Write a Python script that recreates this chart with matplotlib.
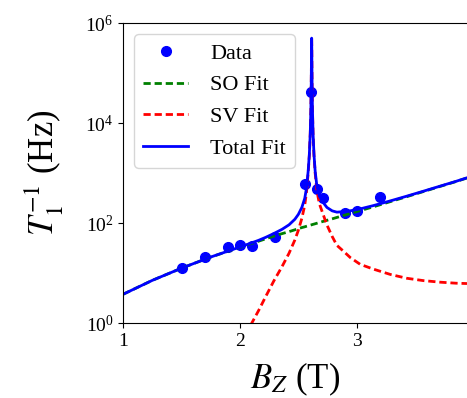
import numpy as np
import matplotlib
matplotlib.use("Agg")
import matplotlib.pyplot as plt
from matplotlib.ticker import NullLocator

plt.rcParams['font.family'] = 'serif'
plt.rcParams['font.serif'] = ['Liberation Serif', 'DejaVu Serif']
plt.rcParams['mathtext.fontset'] = 'stix'

# Mesures (champ B_Z en T, taux de relaxation en Hz)
b_data = [1.5, 1.7, 1.9, 2.0, 2.1, 2.3, 2.56, 2.61, 2.66, 2.71, 2.9, 3.0, 3.2]
t_data = [12.4, 21, 34, 37, 35, 53, 600, 42000, 490, 320, 160, 174, 326]

# Courbes d'ajustement
b_fit = [1.0, 1.25, 1.5, 1.75, 2.0, 2.09, 2.16, 2.22, 2.29, 2.36, 2.42, 2.47,
         2.50, 2.53, 2.555, 2.57, 2.584, 2.594, 2.602, 2.607, 2.610, 2.612,
         2.613, 2.614, 2.615, 2.616, 2.618, 2.621, 2.626, 2.634, 2.644, 2.659,
         2.68, 2.71, 2.745, 2.79, 2.83, 2.89, 2.945, 3.03, 3.145, 3.29, 3.43,
         3.57, 3.715, 3.85, 3.945]
so_fit = [3.8, 7.2, 12.6, 21, 33, 38.7, 43.6, 48.6, 55, 61.7, 67.6, 73.5,
          77.6, 81.6, 84.5, 86.7, 88.6, 89.9, 91.1, 91.8, 92.2, 92.5,
          92.6, 92.8, 92.9, 93.1, 93.4, 93.8, 94.6, 95.7, 97.2, 99.6,
          103, 108, 114, 122, 130, 143, 156, 178, 213, 270, 339,
          427, 543, 678, 800]
sv_fit = [0.001, 0.003, 0.01, 0.05, 0.35, 0.9, 1.8, 3.4, 7.0, 13.5, 25, 46,
          72, 125, 230, 420, 1000, 2240, 6170, 1.77e4, 5.06e4, 1.55e5,
          3.2e5, 5.0e5, 3.2e5, 1.55e5, 5.06e4, 1.77e4, 6170, 2240, 1000, 444,
          245, 155, 92, 54, 36, 27, 20.5, 15, 12, 9.4, 7.9,
          7.1, 6.6, 6.3, 6.2]

total_fit = np.array(so_fit) + np.array(sv_fit)

fig = plt.figure(figsize=(4.67, 3.98), dpi=100)
ax = fig.add_axes([0.264, 0.188, 0.736, 0.754])

ax.plot(b_data, t_data, 'bo', markersize=7, label='Data')
ax.plot(b_fit, so_fit, 'g--', lw=2, dashes=(2.6, 1.4), label='SO Fit')
ax.plot(b_fit, sv_fit, 'r--', lw=2, dashes=(2.6, 1.4), label='SV Fit')
ax.plot(b_fit, total_fit, 'b-', lw=2, label='Total Fit')

ax.set_yscale('log')
ax.set_xlim(1, 3.945)
ax.set_ylim(1, 1e6)
ax.set_xticks([1, 2, 3])
ax.set_yticks([1, 1e2, 1e4, 1e6])
ax.yaxis.set_minor_locator(NullLocator())
ax.tick_params(labelsize=14)
ax.spines['right'].set_visible(False)

ax.set_xlabel(r'$B_Z$ (T)', fontsize=25, labelpad=8)
ax.set_ylabel(r'$T_1^{-1}$ (Hz)', fontsize=25, labelpad=14)

ax.legend(loc='upper left', fontsize=16, handletextpad=1.0)

fig.savefig('out.png', dpi=100)
